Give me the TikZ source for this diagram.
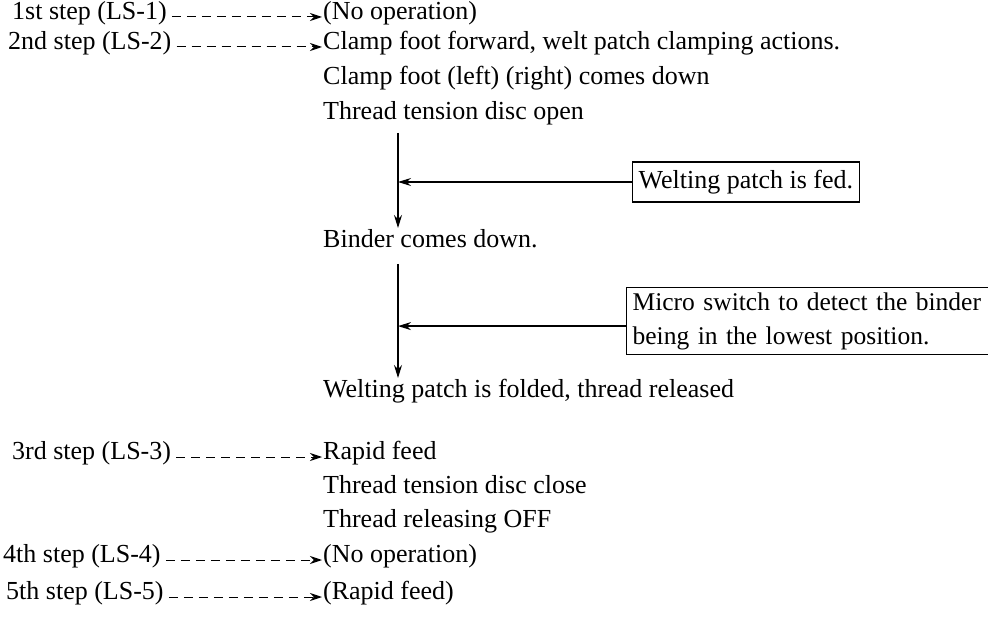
\documentclass[tikz,border=0pt]{standalone}
\usepackage{fontspec}
\setmainfont{Liberation Serif}
\usetikzlibrary{arrows.meta}
\tikzset{
  txt/.style={inner sep=0pt, anchor=mid west, font=\fontsize{26}{31}\selectfont},
  lbl/.style={inner sep=0pt, anchor=mid west, font=\fontsize{26}{31}\selectfont},
  dasharrow/.style={line width=1pt, dash pattern=on 9pt off 6pt, -{Stealth[length=12pt,width=8pt]}, shorten >=1pt},
  flowarrow/.style={line width=1.2pt, -{Stealth[length=13pt,width=8pt]}},
  sidearrow/.style={line width=1.2pt, -{Stealth[length=13pt,width=8pt]}},
  infobox/.style={draw, line width=1.2pt, inner xsep=6pt, inner ysep=0pt, font=\fontsize{26}{31}\selectfont}
}
\begin{document}
\begin{tikzpicture}[x=1pt,y=-1pt]
\useasboundingbox (0,0) rectangle (988,620);
% left step labels
\node[lbl] (s1) at (12,17) {1st step (LS-1)};
\node[lbl] (s2) at (8,47) {2nd step (LS-2)};
\node[lbl] (s3) at (12,457) {3rd step (LS-3)};
\node[lbl] (s4) at (3,560) {4th step (LS-4)};
\node[lbl] (s5) at (6,597) {5th step (LS-5)};
% right column texts
\node[txt] (r1) at (323,17) {(No operation)};
\node[txt] (r2) at (323,47) {Clamp foot forward, welt patch clamping actions.};
\node[txt] (t2) at (323,82) {Clamp foot (left) (right) comes down};
\node[txt] (t3) at (323,117) {Thread tension disc open};
\node[txt] (t4) at (323,245) {Binder comes down.};
\node[txt] (t5) at (323,395) {Welting patch is folded, thread released};
\node[txt] (r3) at (323,457) {Rapid feed};
\node[txt] (t6) at (323,491) {Thread tension disc close};
\node[txt] (t7) at (323,525) {Thread releasing OFF};
\node[txt] (r4) at (323,560) {(No operation)};
\node[txt] (r5) at (323,597) {(Rapid feed)};
% boxes
\node[infobox, minimum height=40pt, anchor=west] (b1) at (632,182) {Welting patch is fed.};
\node[infobox, anchor=north west, minimum height=67pt, text width=352pt, align=left, inner xsep=6pt, font=\fontsize{25.5}{34}\selectfont] (b2) at (626,287) {Micro switch to detect the binder\\being in the lowest position.};
% dashed step arrows
\draw[dasharrow] ([xshift=5pt]s1.mid east) -- (r1.mid west);
\draw[dasharrow] ([xshift=5pt]s2.mid east) -- (r2.mid west);
\draw[dasharrow] ([xshift=5pt]s3.mid east) -- (r3.mid west);
\draw[dasharrow] ([xshift=5pt]s4.mid east) -- (r4.mid west);
\draw[dasharrow] ([xshift=5pt]s5.mid east) -- (r5.mid west);
% vertical flow
\coordinate (vx) at (398,0);
\coordinate (v1a) at (398,133);
\coordinate (v1b) at (398,228);
\coordinate (v2a) at (398,264);
\coordinate (v2b) at (398,378);
\draw[flowarrow] (v1a) -- (v1b);
\draw[flowarrow] (v2a) -- (v2b);
\draw[sidearrow] (b1.west) -- (b1.west -| vx);
\draw[sidearrow] ([yshift=-5pt]b2.west) -- ([yshift=-5pt]b2.west -| vx);
\end{tikzpicture}
\end{document}
